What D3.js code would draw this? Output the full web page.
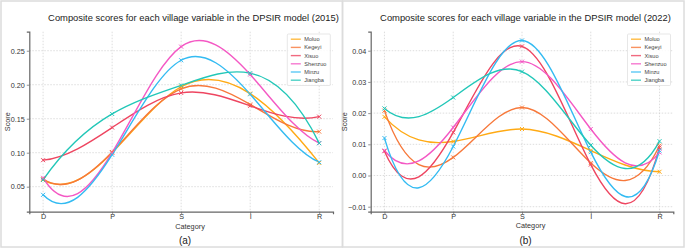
<!DOCTYPE html>
<html>
<head>
<meta charset="utf-8">
<script src="https://cdn.jsdelivr.net/npm/d3@7"></script>
<style>
  body { margin: 0; background: #fff; }
  svg { display: block; font-family: "Liberation Sans", Arial, sans-serif; }
</style>
</head>
<body>
<svg id="chart" width="685" height="249"></svg>
<script>
const categories = ["D", "P", "S", "I", "R"];
const villages = ["Moluo", "Kegeyi", "Xisuo", "Shenzuo", "Minzu", "Jiangba"];
const colors = ["#ffaa14", "#f7783a", "#ee4560", "#f458c4", "#33bbf2", "#22c7b8"];

const scores2015 = [
  [0.060, 0.100, 0.197, 0.187, 0.085],
  [0.061, 0.101, 0.194, 0.171, 0.131],
  [0.089, 0.137, 0.188, 0.169, 0.153],
  [0.063, 0.100, 0.256, 0.215, 0.114],
  [0.038, 0.097, 0.236, 0.186, 0.086],
  [0.060, 0.157, 0.199, 0.217, 0.114]
];
const scores2022 = [
  [0.0188, 0.0109, 0.0149, 0.0080, 0.0012],
  [0.0208, 0.0058, 0.0218, 0.0040, 0.0096],
  [0.0078, 0.0138, 0.0414, 0.0035, 0.0090],
  [0.0080, 0.0154, 0.0365, 0.0149, 0.0074],
  [0.0120, 0.0093, 0.0433, 0.0075, 0.0080],
  [0.0215, 0.0250, 0.0333, 0.0097, 0.0110]
];
const ticks2015 = [0.05, 0.10, 0.15, 0.20, 0.25];
const ticks2022 = [-0.01, 0.00, 0.01, 0.02, 0.03, 0.04];

// cubic spline with not-a-knot ends, drawn as bezier pieces
function notAKnot(context) {
  let xs, ys;
  return {
    areaStart() {}, areaEnd() {},
    lineStart() { xs = []; ys = []; },
    point(x, y) { xs.push(+x); ys.push(+y); },
    lineEnd() {
      const n = xs.length;
      if (!n) return;
      context.moveTo(xs[0], ys[0]);
      if (n < 4) { for (let i = 1; i < n; i++) context.lineTo(xs[i], ys[i]); return; }
      const h = d3.range(n - 1).map(i => xs[i + 1] - xs[i]);
      const A = d3.range(n).map(() => new Array(n + 1).fill(0));
      A[0][0] = h[1]; A[0][1] = -(h[0] + h[1]); A[0][2] = h[0];
      for (let i = 1; i < n - 1; i++) {
        A[i][i - 1] = h[i - 1];
        A[i][i] = 2 * (h[i - 1] + h[i]);
        A[i][i + 1] = h[i];
        A[i][n] = 6 * ((ys[i + 1] - ys[i]) / h[i] - (ys[i] - ys[i - 1]) / h[i - 1]);
      }
      A[n - 1][n - 3] = h[n - 2]; A[n - 1][n - 2] = -(h[n - 3] + h[n - 2]); A[n - 1][n - 1] = h[n - 3];
      // gaussian elimination
      for (let c = 0; c < n; c++) {
        let p = c;
        for (let r = c + 1; r < n; r++) if (Math.abs(A[r][c]) > Math.abs(A[p][c])) p = r;
        [A[c], A[p]] = [A[p], A[c]];
        for (let r = 0; r < n; r++) {
          if (r === c) continue;
          const f = A[r][c] / A[c][c];
          for (let k = c; k <= n; k++) A[r][k] -= f * A[c][k];
        }
      }
      const M = A.map((row, i) => row[n] / row[i]);
      const m = d3.range(n).map(i => i < n - 1
        ? (ys[i + 1] - ys[i]) / h[i] - h[i] * (2 * M[i] + M[i + 1]) / 6
        : (ys[i] - ys[i - 1]) / h[i - 1] + h[i - 1] * (M[i - 1] + 2 * M[i]) / 6);
      for (let i = 0; i < n - 1; i++) {
        const d = h[i] / 3;
        context.bezierCurveTo(xs[i] + d, ys[i] + m[i] * d, xs[i + 1] - d, ys[i + 1] - m[i + 1] * d, xs[i + 1], ys[i + 1]);
      }
    }
  };
}

const svg = d3.select("#chart");

function drawPanel(opts) {
  const g = svg.append("g");
  const { left, right, top, bottom } = opts;

  g.append("rect")
    .attr("x", opts.frame[0]).attr("y", 1)
    .attr("width", opts.frame[1] - opts.frame[0]).attr("height", 246)
    .attr("fill", "none").attr("stroke", "#dcdcdc").attr("stroke-width", 1.5);

  const x = d3.scalePoint().domain(categories).range([left, right]).padding(0.2);
  const y = d3.scaleLinear().domain(opts.yDomain).range([bottom, top]);

  // grid
  g.append("g").selectAll("line").data(opts.ticks).join("line")
    .attr("x1", left).attr("x2", right)
    .attr("y1", d => y(d)).attr("y2", d => y(d))
    .attr("stroke", "#cfcfcf").attr("stroke-width", 0.7).attr("stroke-dasharray", "1.5,1.5");
  g.append("g").selectAll("line").data(categories).join("line")
    .attr("x1", d => x(d)).attr("x2", d => x(d))
    .attr("y1", top).attr("y2", bottom)
    .attr("stroke", "#cfcfcf").attr("stroke-width", 0.7).attr("stroke-dasharray", "1.5,1.5");

  // axes
  const ya = g.append("g").attr("transform", `translate(${left},0)`)
    .call(d3.axisLeft(y).tickValues(opts.ticks).tickFormat(d3.format(".2f")).tickSize(2.5).tickPadding(2));
  const xa = g.append("g").attr("transform", `translate(0,${bottom})`)
    .call(d3.axisBottom(x).tickSize(2.5).tickPadding(0));
  [ya, xa].forEach(a => {
    a.select(".domain").attr("stroke", "#666").attr("stroke-width", 1.2);
    a.selectAll(".tick line").attr("stroke", "#666").attr("stroke-width", 0.7);
    a.selectAll(".tick text").attr("fill", "#333").attr("font-size", 7.2)
      .attr("font-family", "Liberation Sans, Arial, sans-serif");
  });

  const line = d3.line().x((d, i) => x(categories[i])).y(d => y(d)).curve(notAKnot);

  opts.series.forEach((vals, s) => {
    g.append("path").datum(vals)
      .attr("d", line).attr("fill", "none")
      .attr("stroke", colors[s]).attr("stroke-width", 1.4);
  });
  opts.series.forEach((vals, s) => {
    g.append("g").selectAll("path").data(vals).join("path")
      .attr("transform", (d, i) => `translate(${x(categories[i])},${y(d)})`)
      .attr("d", "M-2,-2L2,2M-2,2L2,-2")
      .attr("stroke", colors[s]).attr("stroke-width", 1);
  });

  // titles
  g.append("text").attr("x", opts.titleX).attr("y", 20.5)
    .attr("text-anchor", "middle").attr("font-size", 9.4).attr("fill", "#222")
    .text(opts.title);
  g.append("text").attr("x", opts.catX).attr("y", opts.catY)
    .attr("text-anchor", "middle").attr("font-size", 7.3).attr("fill", "#333")
    .text("Category");
  g.append("text").attr("transform", `translate(${opts.scoreX},${(top + bottom) / 2}) rotate(-90)`)
    .attr("text-anchor", "middle").attr("font-size", 7.3).attr("fill", "#333")
    .text("Score");
  g.append("text").attr("x", opts.catX - 5).attr("y", 243.5)
    .attr("text-anchor", "middle").attr("font-size", 10).attr("fill", "#222")
    .text(opts.label);

  // legend
  const lg = g.append("g").attr("transform", `translate(${opts.legendX},34)`);
  lg.append("rect").attr("width", 43).attr("height", 51.5).attr("rx", 1)
    .attr("fill", "#fff").attr("fill-opacity", 0.85).attr("stroke", "#ddd").attr("stroke-width", 0.7);
  villages.forEach((v, i) => {
    const yy = 5.2 + i * 8.2;
    lg.append("line").attr("x1", 3.5).attr("x2", 13.5).attr("y1", yy).attr("y2", yy)
      .attr("stroke", colors[i]).attr("stroke-width", 1.4).attr("stroke-opacity", 0.8);
    lg.append("text").attr("x", 17).attr("y", yy + 2)
      .attr("font-size", 5.6).attr("fill", "#444").text(v);
  });
}

drawPanel({
  frame: [1, 342.5], left: 29.3, right: 333, top: 31.7, bottom: 211.7,
  yDomain: [0.0132, 0.278], ticks: ticks2015, series: scores2015,
  title: "Composite scores for each village variable in the DPSIR model (2015)",
  titleX: 193.5, catX: 190, catY: 228.5, scoreX: 10, label: "(a)", legendX: 287.3
});
drawPanel({
  frame: [342.5, 684], left: 370.7, right: 673.3, top: 31.7, bottom: 211.7,
  yDomain: [-0.0116, 0.0461], ticks: ticks2022, series: scores2022,
  title: "Composite scores for each village variable in the DPSIR model (2022)",
  titleX: 525.5, catX: 530.5, catY: 227.5, scoreX: 347, label: "(b)", legendX: 627.5
});
</script>
</body>
</html>
